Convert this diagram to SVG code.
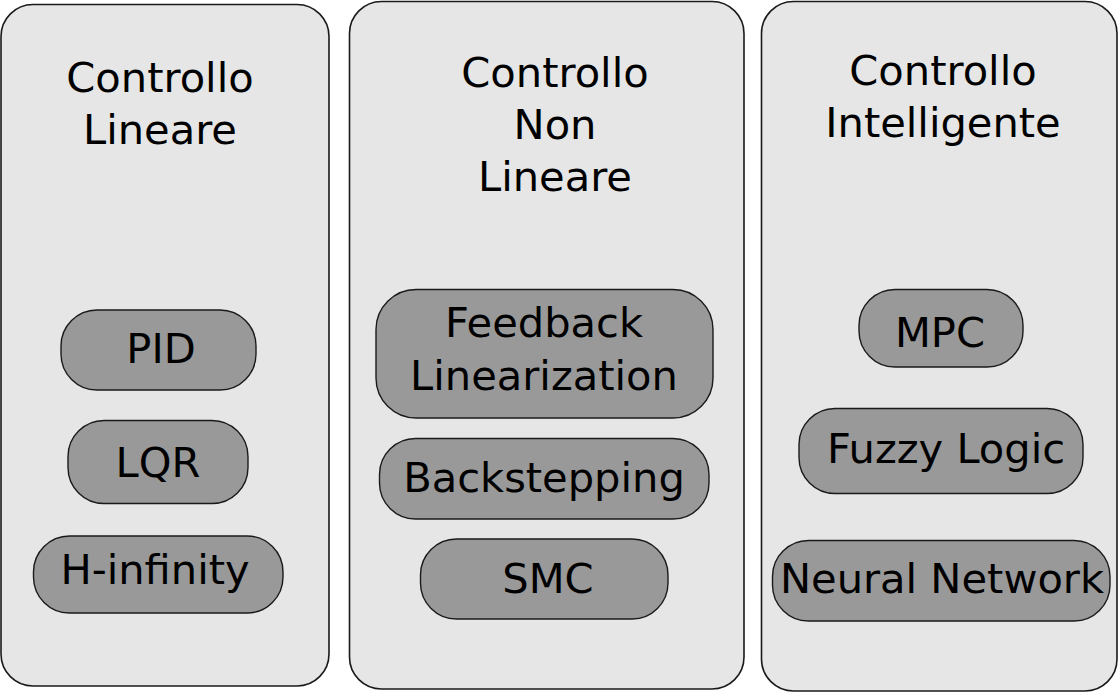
<svg xmlns="http://www.w3.org/2000/svg" width="1119" height="693" viewBox="0 0 1119 693">
<style>
.panel{fill:#e6e6e6;stroke:#1a1a1a;stroke-width:1.6}
.node{fill:#999999;stroke:#1a1a1a;stroke-width:1.4}
text{font-family:"DejaVu Sans",sans-serif;font-size:41.6px;fill:#000;text-anchor:middle}
</style>
<rect width="1119" height="693" fill="#ffffff"/>
<g id="panel-lineare">
<rect class="panel" x="1" y="4.5" width="328" height="681.5" rx="32"/>
<text x="160" y="92">Controllo</text>
<text x="160" y="144">Lineare</text>
</g>
<g id="panel-nonlineare">
<rect class="panel" x="349.5" y="1.5" width="394.5" height="687.5" rx="32"/>
<text x="555" y="87">Controllo</text>
<text x="555" y="139">Non</text>
<text x="555" y="191">Lineare</text>
</g>
<g id="panel-intelligente">
<rect class="panel" x="761.5" y="1.5" width="355.5" height="689.5" rx="32"/>
<text x="943" y="85">Controllo</text>
<text x="943" y="137">Intelligente</text>
</g>
<g id="node-pid">
<rect class="node" x="61" y="310" width="195" height="80" rx="36"/>
<text x="161" y="363">PID</text>
</g>
<g id="node-lqr">
<rect class="node" x="68" y="420.5" width="180" height="83" rx="36"/>
<text x="158" y="477">LQR</text>
</g>
<g id="node-hinf">
<rect class="node" x="33.5" y="536" width="249.5" height="77" rx="36"/>
<text x="155" y="584">H-infinity</text>
</g>
<g id="node-fl">
<rect class="node" x="376" y="289.5" width="337" height="128.5" rx="40"/>
<text x="544" y="337">Feedback</text>
<text x="544" y="390">Linearization</text>
</g>
<g id="node-back">
<rect class="node" x="379.5" y="438.5" width="329.5" height="80.5" rx="36"/>
<text x="544" y="492">Backstepping</text>
</g>
<g id="node-smc">
<rect class="node" x="420.5" y="539" width="247.5" height="80" rx="36"/>
<text x="548" y="593">SMC</text>
</g>
<g id="node-mpc">
<rect class="node" x="859" y="289.5" width="164" height="77.5" rx="36"/>
<text x="940" y="347">MPC</text>
</g>
<g id="node-fuzzy">
<rect class="node" x="799" y="408.5" width="284" height="85" rx="36"/>
<text x="946" y="463">Fuzzy Logic</text>
</g>
<g id="node-nn">
<rect class="node" x="772.5" y="540.5" width="337.5" height="80.5" rx="36"/>
<text x="942" y="593">Neural Network</text>
</g>
<g id="connectors"></g>
</svg>
